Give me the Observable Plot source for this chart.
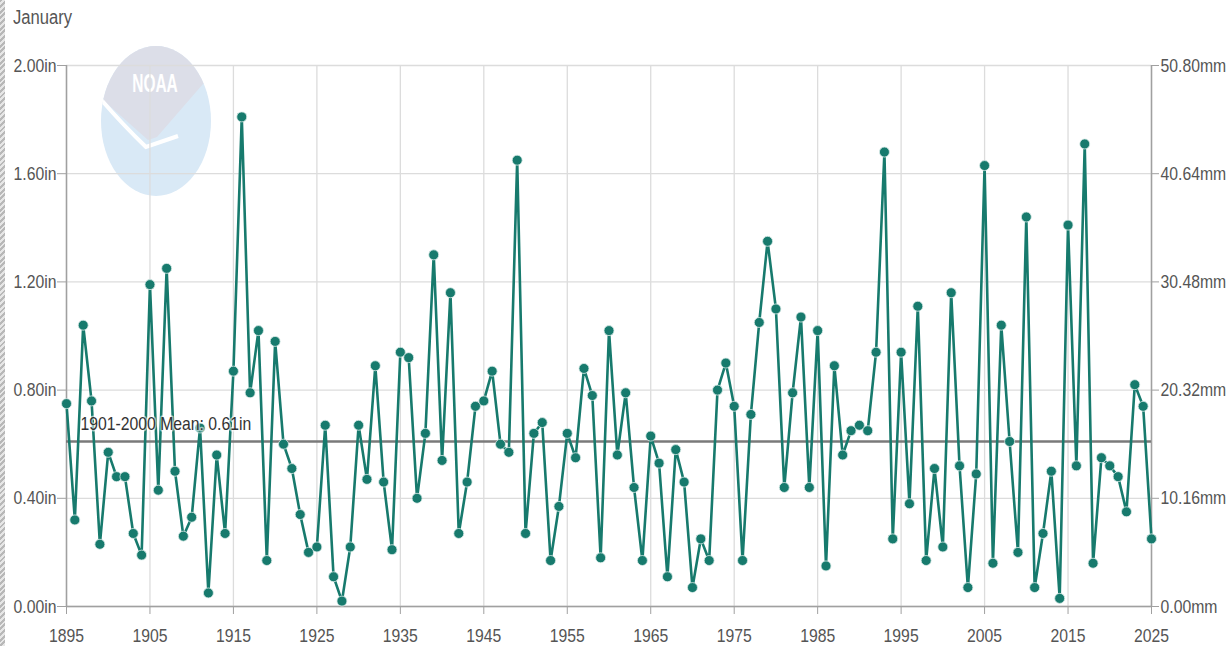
<!DOCTYPE html>
<html><head><meta charset="utf-8">
<script src="https://cdn.jsdelivr.net/npm/d3@7"></script>
<script src="https://cdn.jsdelivr.net/npm/@observablehq/plot@0.6"></script>
<style>
body{margin:0;background:#fff;font-family:"Liberation Sans",Arial,sans-serif;}
#wrap{position:relative;width:1229px;height:646px;overflow:hidden;background:#fff}
#stripe{position:absolute;left:0;top:0;width:5px;height:646px;background:repeating-linear-gradient(135deg,#b8b8b8 0 2px,#e6e6e6 2px 4px);z-index:2}
#title{height:36px;padding-left:13px;font-size:20px;color:#555;line-height:34px}
#title span{display:inline-block;transform:scaleX(0.83);transform-origin:left center}
</style></head><body>
<div id="wrap"><div id="stripe"></div><div id="title"><span id="titleText"></span></div><div id="chart"></div></div>
<script>
const firstYear = 1895;
const precipIn = [
  0.75, 0.32, 1.04, 0.76, 0.23, 0.57, 0.48, 0.48, 0.27, 0.19,
  1.19, 0.43, 1.25, 0.50, 0.26, 0.33, 0.66, 0.05, 0.56, 0.27,
  0.87, 1.81, 0.79, 1.02, 0.17, 0.98, 0.60, 0.51, 0.34, 0.20,
  0.22, 0.67, 0.11, 0.02, 0.22, 0.67, 0.47, 0.89, 0.46, 0.21,
  0.94, 0.92, 0.40, 0.64, 1.30, 0.54, 1.16, 0.27, 0.46, 0.74,
  0.76, 0.87, 0.60, 0.57, 1.65, 0.27, 0.64, 0.68, 0.17, 0.37,
  0.64, 0.55, 0.88, 0.78, 0.18, 1.02, 0.56, 0.79, 0.44, 0.17,
  0.63, 0.53, 0.11, 0.58, 0.46, 0.07, 0.25, 0.17, 0.80, 0.90,
  0.74, 0.17, 0.71, 1.05, 1.35, 1.10, 0.44, 0.79, 1.07, 0.44,
  1.02, 0.15, 0.89, 0.56, 0.65, 0.67, 0.65, 0.94, 1.68, 0.25,
  0.94, 0.38, 1.11, 0.17, 0.51, 0.22, 1.16, 0.52, 0.07, 0.49,
  1.63, 0.16, 1.04, 0.61, 0.20, 1.44, 0.07, 0.27, 0.50, 0.03,
  1.41, 0.52, 1.71, 0.16, 0.55, 0.52, 0.48, 0.35, 0.82, 0.74,
  0.25
];
const meanIn = 0.61;
const meanLabel = "1901-2000 Mean: 0.61in";
const xTicks = [1895, 1905, 1915, 1925, 1935, 1945, 1955, 1965, 1975, 1985, 1995, 2005, 2015, 2025];
const yTicks = [0, 0.4, 0.8, 1.2, 1.6, 2.0];
const titleText = "January";

const data = precipIn.map((v, i) => ({year: firstYear + i, value: v}));
const teal = "#177a6d";
const labelColor = "#555";
const fontFam = '"Liberation Sans",Arial,sans-serif';
const squeeze = 0.83;

document.getElementById("titleText").textContent = titleText;

const chart = Plot.plot({
  width: 1229,
  height: 610,
  marginTop: 29,
  marginBottom: 40,
  marginLeft: 66,
  marginRight: 78,
  style: {fontFamily: fontFam, fontSize: "19px", color: labelColor, background: "transparent", overflow: "visible"},
  x: {domain: [xTicks[0], xTicks[xTicks.length - 1]]},
  y: {domain: [yTicks[0], yTicks[yTicks.length - 1]]},
  marks: [
    Plot.gridX(xTicks, {stroke: "#dcdcdc", strokeOpacity: 1, strokeWidth: 1.3}),
    Plot.gridY(yTicks, {stroke: "#dcdcdc", strokeOpacity: 1, strokeWidth: 1.3}),
    Plot.ruleY([yTicks[0]], {stroke: "#a0a0a0", strokeWidth: 1.5}),
    Plot.ruleX([xTicks[0], xTicks[xTicks.length - 1]], {stroke: "#a0a0a0", strokeWidth: 1.5}),
    Plot.axisX(xTicks, {tickFormat: d => String(d), tickSize: 8, tickPadding: 14, stroke: "#a0a0a0", fill: labelColor, fontSize: 19, label: null}),
    Plot.axisY(yTicks, {anchor: "left", tickFormat: d => d.toFixed(2) + "in", tickSize: 9, tickPadding: 1, stroke: "#a0a0a0", fill: labelColor, fontSize: 19, label: null}),
    Plot.axisY(yTicks, {anchor: "right", tickFormat: d => (d * 25.4).toFixed(2) + "mm", tickSize: 7, tickPadding: 2, stroke: "#a0a0a0", fill: labelColor, fontSize: 19, label: null}),
    Plot.ruleY([meanIn], {x1: xTicks[0], x2: xTicks[xTicks.length - 1], stroke: "#7a7a7a", strokeWidth: 2.6}),
    Plot.line(data, {x: "year", y: "value", stroke: teal, strokeWidth: 2.6}),
    Plot.dot(data, {x: "year", y: "value", r: 5, fill: teal, stroke: "#dcecea", strokeWidth: 0.8}),
    Plot.text([meanLabel], {x: xTicks[0], y: meanIn, dx: 14, dy: -18, textAnchor: "start", fill: "#333", fontSize: 19, stroke: "white", strokeOpacity: 0.6, strokeWidth: 3})
  ]
});
document.getElementById("chart").appendChild(chart);

// Condense all chart texts horizontally around their anchor points
d3.select(chart).selectAll("text").each(function() {
  const t = this.getAttribute("transform") || "";
  const xa = this.getAttribute("x");
  let pre = "";
  if (xa !== null && xa !== "" && !isNaN(+xa)) {
    pre = ` translate(${+xa},0)`;
    this.removeAttribute("x");
  }
  this.setAttribute("transform", `${t}${pre} scale(${squeeze},1)`);
});

// NOAA watermark (decoration only)
const svg = d3.select(chart);
const defs = svg.insert("defs", ":first-child");
defs.append("clipPath").attr("id", "noaaClip")
  .append("ellipse").attr("cx", 156).attr("cy", 121).attr("rx", 55).attr("ry", 75);
const wm = svg.insert("g", "defs + *").attr("transform", "translate(0,-36)");
wm.append("ellipse").attr("cx", 156).attr("cy", 121).attr("rx", 55).attr("ry", 75).attr("fill", "#d9e9f6");
const wmc = wm.append("g").attr("clip-path", "url(#noaaClip)");
wmc.append("path").attr("d", "M90,40 L222,40 L222,78 L203,84 L157,137 L148,140 L103,100 L90,96 Z").attr("fill", "#dcdee8");
wmc.append("path").attr("d", "M98,96 Q122,124 146,147 L178,136").attr("fill", "none").attr("stroke", "#ffffff").attr("stroke-width", 4);
wm.append("text").attr("transform", "translate(155,92) scale(0.62,1)").attr("text-anchor", "middle").attr("fill", "#ffffff")
  .attr("font-size", 25).attr("font-weight", "bold").attr("font-family", fontFam).text("NOAA");
</script>
</body></html>
